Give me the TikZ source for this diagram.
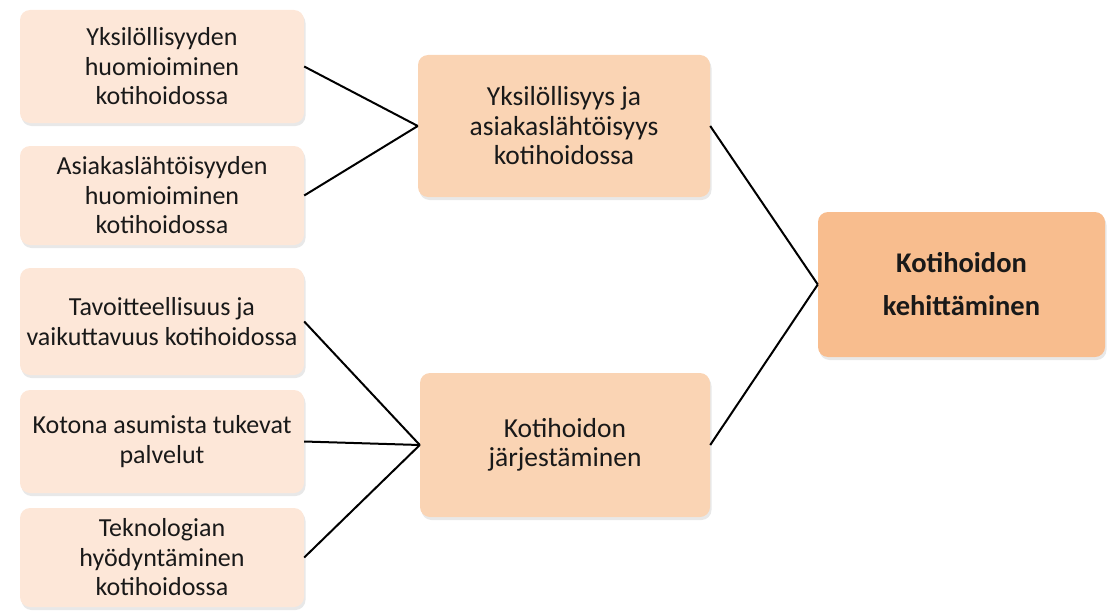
\documentclass[tikz,border=0pt]{standalone}
\usepackage{fontspec}
\setmainfont{Carlito}
\usetikzlibrary{shadows}
\definecolor{leaf}{HTML}{FDE7D8}
\definecolor{mid}{HTML}{FAD4B4}
\definecolor{top}{HTML}{F8BD8E}
\tikzset{
  box/.style={rectangle, rounded corners=10pt, inner sep=0pt, align=center,
    text=black!90, drop shadow={opacity=0.18, shadow xshift=1.5pt, shadow yshift=-3pt}},
  leafbox/.style={box, fill=leaf, minimum width=284pt, font=\fontsize{26}{29.5}\selectfont},
  midbox/.style={box, fill=mid, font=\fontsize{27.5}{29.5}\selectfont},
  topbox/.style={box, fill=top, font=\bfseries\fontsize{28.5}{43}\selectfont},
  link/.style={draw=black, line width=2pt}
}
\begin{document}
\begin{tikzpicture}[x=1pt,y=-1pt]
\useasboundingbox (0,0) rectangle (1107,610);
\node[leafbox, minimum height=113pt] (b1) at (162,66.5) {Yksilöllisyyden\\huomioiminen\\kotihoidossa};
\node[leafbox, minimum height=99pt] (b2) at (162,195.5) {Asiakaslähtöisyyden\\huomioiminen\\kotihoidossa};
\node[leafbox, minimum height=107pt] (b3) at (162,321.5) {Tavoitteellisuus ja\\vaikuttavuus kotihoidossa};
\node[leafbox, minimum height=103pt] (b4) at (162,441.5) {Kotona asumista tukevat\\palvelut};
\node[leafbox, minimum height=99pt] (b5) at (162,557.5) {Teknologian\\hyödyntäminen\\kotihoidossa};
\node[midbox, minimum width=292pt, minimum height=142pt] (m1) at (564,126) {Yksilöllisyys ja\\asiakaslähtöisyys\\kotihoidossa};
\node[midbox, minimum width=290pt, minimum height=144pt] (m2) at (565,445) {Kotihoidon\\järjestäminen};
\node[topbox, minimum width=287pt, minimum height=145pt] (r) at (961.5,284.5) {Kotihoidon\\kehittäminen};
\draw[link] (b1.east) -- (m1.west);
\draw[link] (b2.east) -- (m1.west);
\draw[link] (b3.east) -- (m2.west);
\draw[link] (b4.east) -- (m2.west);
\draw[link] (b5.east) -- (m2.west);
\draw[link] (m1.east) -- (r.west);
\draw[link] (m2.east) -- (r.west);
\end{tikzpicture}
\end{document}
